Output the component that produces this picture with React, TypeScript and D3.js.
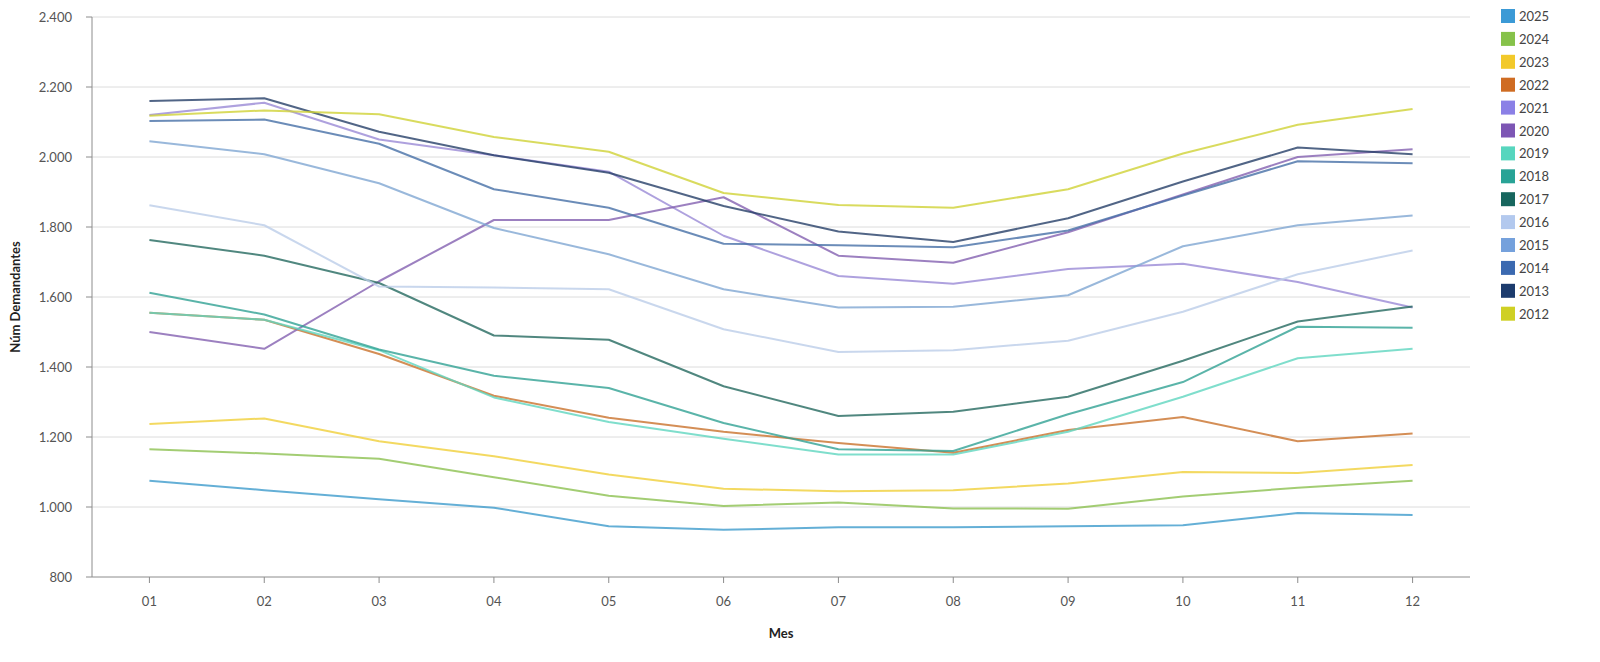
import { useMemo } from "react";
import * as d3 from "d3";

const WIDTH = 1600;
const HEIGHT = 662;
const MARGIN = { top: 17, right: 130, bottom: 85, left: 92 };

const months = ["01", "02", "03", "04", "05", "06", "07", "08", "09", "10", "11", "12"];
const yTicks = [800, 1000, 1200, 1400, 1600, 1800, 2000, 2200, 2400];

const years = ["2025", "2024", "2023", "2022", "2021", "2020", "2019", "2018", "2017", "2016", "2015", "2014", "2013", "2012"];

const legendColors = ["#3b9ad6", "#86c24a", "#f2c92a", "#cf6c22", "#8b80e6", "#7d56b4", "#57d6be", "#28a396", "#17665e", "#b3c9ee", "#75a1dc", "#3b69b0", "#1c3b6d", "#cfd024"];
const lineColors = ["#3d9bcc", "#8cc150", "#f0cf3a", "#c9722c", "#9a8ad6", "#8360b0", "#5fd6bf", "#31a193", "#24695f", "#bccde8", "#7fa6d2", "#466fa6", "#263f68", "#cfd236"];

const v2025 = [1075, 1048, 1022, 998, 945, 935, 942, 942, 945, 948, 983, 977];
const v2024 = [1165, 1153, 1138, 1085, 1032, 1003, 1013, 996, 995, 1030, 1055, 1075];
const v2023 = [1237, 1253, 1188, 1145, 1093, 1052, 1045, 1048, 1067, 1100, 1097, 1120];
const v2022 = [1555, 1535, 1437, 1318, 1255, 1215, 1183, 1155, 1220, 1257, 1188, 1210];
const v2021 = [2120, 2155, 2050, 2005, 1958, 1775, 1660, 1638, 1680, 1695, 1643, 1570];
const v2020 = [1500, 1452, 1645, 1820, 1820, 1885, 1718, 1698, 1785, 1893, 2000, 2022];
const v2019 = [1555, 1535, 1448, 1313, 1243, 1195, 1150, 1150, 1215, 1315, 1425, 1452];
const v2018 = [1612, 1550, 1450, 1375, 1340, 1240, 1165, 1160, 1265, 1357, 1515, 1512];
const v2017 = [1763, 1718, 1640, 1490, 1478, 1345, 1260, 1272, 1315, 1418, 1530, 1573];
const v2016 = [1862, 1805, 1630, 1627, 1622, 1508, 1443, 1448, 1475, 1558, 1665, 1733];
const v2015 = [2045, 2008, 1925, 1797, 1722, 1622, 1570, 1572, 1605, 1745, 1805, 1833];
const v2014 = [2103, 2107, 2038, 1908, 1855, 1752, 1748, 1742, 1790, 1890, 1988, 1982];
const v2013 = [2160, 2168, 2072, 2005, 1955, 1860, 1787, 1757, 1825, 1930, 2027, 2008];
const v2012 = [2118, 2133, 2122, 2057, 2015, 1897, 1863, 1855, 1908, 2010, 2092, 2137];

const seriesValues = [v2025, v2024, v2023, v2022, v2021, v2020, v2019, v2018, v2017, v2016, v2015, v2014, v2013, v2012];

const FONT = "Lato, 'Open Sans', sans-serif";

const fmt = (v: number) => d3.format(",")(v).replace(/,/g, ".");

const App = () => {
  const boundsWidth = WIDTH - MARGIN.left - MARGIN.right;
  const boundsHeight = HEIGHT - MARGIN.top - MARGIN.bottom;

  const xScale = useMemo(
    () => d3.scalePoint<string>().domain(months).range([0, boundsWidth]).padding(0.5),
    [boundsWidth]
  );
  const yScale = useMemo(
    () => d3.scaleLinear().domain([800, 2400]).range([boundsHeight, 0]),
    [boundsHeight]
  );

  const lineBuilder = d3
    .line<number>()
    .x((_, i) => xScale(months[i])!)
    .y((d) => yScale(d));

  const grid = yTicks.map((t) => (
    <g key={t}>
      {t !== 800 && (
        <line x1={0} x2={boundsWidth} y1={yScale(t)} y2={yScale(t)} stroke="#dcdcdc" strokeWidth={1} />
      )}
      <line x1={-6} x2={0} y1={yScale(t)} y2={yScale(t)} stroke="#8c8c8c" />
      <text x={-20} y={yScale(t)} textAnchor="end" dominantBaseline="central" fontSize={13} fill="#555">
        {fmt(t)}
      </text>
    </g>
  ));

  const xTicks = months.map((m) => (
    <g key={m}>
      <line x1={xScale(m)} x2={xScale(m)} y1={boundsHeight} y2={boundsHeight + 6} stroke="#8c8c8c" />
      <text x={xScale(m)} y={boundsHeight + 29} textAnchor="middle" fontSize={13} fill="#555">
        {m}
      </text>
    </g>
  ));

  // newest year drawn first, older years on top
  const lines = years.map((y, i) => (
    <path
      key={y}
      d={lineBuilder(seriesValues[i])!}
      fill="none"
      stroke={lineColors[i]}
      strokeOpacity={0.8}
      strokeWidth={2}
      strokeLinejoin="round"
    />
  ));

  const legend = years.map((y, i) => (
    <g key={y} transform={`translate(1501, ${9 + i * 22.9})`}>
      <rect width={14} height={14} fill={legendColors[i]} />
      <text x={18} y={7} dominantBaseline="central" fontSize={13} fill="#444">
        {y}
      </text>
    </g>
  ));

  return (
    <svg
      width={WIDTH}
      height={HEIGHT}
      style={{ position: "absolute", left: 0, top: 0, background: "#fff", fontFamily: FONT }}
    >
      <g transform={`translate(${MARGIN.left},${MARGIN.top})`}>
        {grid}
        <line x1={0} x2={0} y1={0} y2={boundsHeight} stroke="#8c8c8c" />
        <line x1={0} x2={boundsWidth} y1={boundsHeight} y2={boundsHeight} stroke="#8c8c8c" />
        {xTicks}
        <g>{lines}</g>
      </g>
      <text
        transform={`translate(20, ${MARGIN.top + boundsHeight / 2}) rotate(-90)`}
        textAnchor="middle"
        fontSize={13}
        fontWeight="bold"
        fill="#222"
      >
        Núm Demandantes
      </text>
      <text x={781} y={638} textAnchor="middle" fontSize={13} fontWeight="bold" fill="#222">
        Mes
      </text>
      {legend}
    </svg>
  );
};

export default App;
